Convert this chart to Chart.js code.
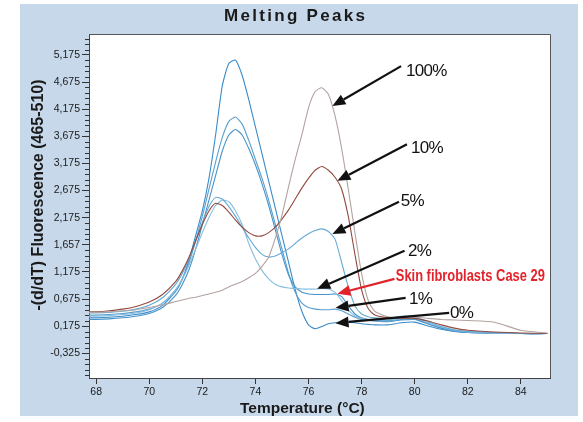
<!DOCTYPE html>
<html>
<head>
<meta charset="utf-8">
<script src="https://cdn.jsdelivr.net/npm/chart.js@4.4.1/dist/chart.umd.min.js"></script>
<style>
  body { margin: 0; background: #fff; }
</style>
</head>
<body>
<canvas id="grafico" width="583" height="422"></canvas>
<script>
// temperaturas (°C) comunes a todas las curvas
const temperaturas = [67.7, 68, 68.5, 69, 69.5, 70, 70.5,
  71, 71.25, 71.5, 71.75, 72, 72.25, 72.5, 72.75, 73, 73.25, 73.5, 73.75,
  74, 74.25, 74.5, 74.75, 75, 75.25, 75.5, 75.75, 76, 76.25, 76.5, 76.75,
  77, 77.25, 77.5, 77.75, 78, 78.25, 78.5,
  79, 79.5, 80, 80.5, 81, 81.5, 82, 83, 84, 85];

// -(d/dT) fluorescencia de cada muestra
const serie100 = [0.43, 0.43, 0.44, 0.46, 0.48, 0.52, 0.57,
  0.63, 0.66, 0.69, 0.71, 0.74, 0.77, 0.80, 0.84, 0.90, 0.95, 1.00, 1.07,
  1.15, 1.28, 1.45, 1.80, 2.22, 2.75, 3.25, 3.70, 4.20, 4.50, 4.57, 4.45,
  4.05, 3.45, 2.70, 1.90, 1.15, 0.65, 0.45,
  0.35, 0.33, 0.34, 0.32, 0.30, 0.29, 0.28, 0.25, 0.10, 0.05];
const serie10 = [0.44, 0.44, 0.46, 0.49, 0.54, 0.62, 0.76,
  1.00, 1.20, 1.45, 1.75, 2.05, 2.30, 2.44, 2.40, 2.28, 2.13, 2.00, 1.90,
  1.84, 1.84, 1.90, 2.00, 2.15, 2.32, 2.52, 2.72, 2.90, 3.05, 3.12, 3.05,
  2.92, 2.70, 2.20, 1.50, 0.85, 0.50, 0.38,
  0.33, 0.32, 0.32, 0.27, 0.20, 0.14, 0.10, 0.07, 0.05, 0.04];
const serie5 = [0.42, 0.42, 0.43, 0.45, 0.49, 0.56, 0.70,
  0.95, 1.15, 1.42, 1.75, 2.08, 2.38, 2.55, 2.52, 2.38, 2.20, 2.00, 1.80,
  1.63, 1.50, 1.45, 1.47, 1.53, 1.60, 1.70, 1.80, 1.88, 1.94, 1.97, 1.92,
  1.78, 1.35, 0.90, 0.55, 0.40, 0.35, 0.33,
  0.32, 0.36, 0.35, 0.26, 0.17, 0.11, 0.08, 0.06, 0.04, 0.04];
const serie2 = [0.36, 0.36, 0.37, 0.39, 0.42, 0.48, 0.60,
  0.85, 1.05, 1.30, 1.60, 1.90, 2.18, 2.40, 2.50, 2.47, 2.30, 2.05, 1.70,
  1.42, 1.20, 1.05, 0.95, 0.90, 0.88, 0.87, 0.86, 0.86, 0.86, 0.87, 0.86,
  0.80, 0.65, 0.47, 0.37, 0.32, 0.30, 0.30,
  0.29, 0.33, 0.33, 0.24, 0.16, 0.10, 0.07, 0.05, 0.04, 0.04];
const serieCaso29 = [0.30, 0.30, 0.31, 0.33, 0.36, 0.41, 0.52,
  0.75, 0.95, 1.22, 1.60, 2.05, 2.50, 2.95, 3.40, 3.70, 3.80, 3.70, 3.45,
  3.15, 2.80, 2.40, 1.95, 1.50, 1.12, 0.90, 0.80, 0.77, 0.76, 0.76, 0.76,
  0.77, 0.72, 0.55, 0.40, 0.33, 0.30, 0.29,
  0.28, 0.30, 0.31, 0.22, 0.14, 0.09, 0.06, 0.05, 0.04, 0.04];
const serie1 = [0.38, 0.38, 0.39, 0.41, 0.44, 0.49, 0.60,
  0.85, 1.05, 1.35, 1.75, 2.20, 2.70, 3.20, 3.65, 3.95, 4.03, 3.90, 3.60,
  3.25, 2.90, 2.50, 2.05, 1.60, 1.15, 0.80, 0.60, 0.52, 0.49, 0.48, 0.48,
  0.49, 0.46, 0.40, 0.34, 0.30, 0.28, 0.27,
  0.26, 0.29, 0.30, 0.22, 0.14, 0.09, 0.06, 0.05, 0.04, 0.04];
const serie0 = [0.33, 0.33, 0.34, 0.36, 0.39, 0.44, 0.56,
  0.82, 1.05, 1.40, 1.85, 2.30, 2.90, 3.70, 4.60, 5.02, 5.08, 4.80, 4.35,
  3.85, 3.35, 2.85, 2.35, 1.85, 1.35, 0.85, 0.45, 0.20, 0.13, 0.17, 0.22,
  0.24, 0.25, 0.25, 0.24, 0.22, 0.21, 0.20,
  0.20, 0.24, 0.25, 0.18, 0.12, 0.08, 0.06, 0.05, 0.04, 0.04];

// ejes
const xTicks = [68, 70, 72, 74, 76, 78, 80, 82, 84];
const yTicks = [-0.325, 0.175, 0.675, 1.175, 1.675, 2.175, 2.675, 3.175, 3.675, 4.175, 4.675, 5.175];
const yEtiquetas = ['-0,325', '0,175', '0,675', '1,175', '1,657', '2,175', '2,675', '3,175', '3,675', '4,175', '4,675', '5,175'];

// flechas con su texto, en coordenadas de datos
const flechas = [
  { texto: '100%', color: '#111', tx: 79.67, ty: 4.785, x0: 79.49, y0: 4.969, x1: 76.90, y1: 4.234 },
  { texto: '10%', color: '#111', tx: 79.86, ty: 3.37, x0: 79.71, y0: 3.53, x1: 77.09, y1: 2.855 },
  { texto: '5%', color: '#111', tx: 79.48, ty: 2.396, x0: 79.41, y0: 2.47, x1: 76.90, y1: 1.875 },
  { texto: '2%', color: '#111', tx: 79.75, ty: 1.476, x0: 79.62, y0: 1.568, x1: 76.33, y1: 0.864 },
  { texto: 'Skin fibroblasts Case 29', color: '#e3232b', tx: 79.29, ty: 1.0, x0: 79.24, y0: 1.048, x1: 77.09, y1: 0.772, ancho: 149 },
  { texto: '1%', color: '#111', tx: 79.79, ty: 0.594, x0: 79.66, y0: 0.699, x1: 77.02, y1: 0.515 },
  { texto: '0%', color: '#111', tx: 81.33, ty: 0.318, x0: 81.30, y0: 0.423, x1: 77.02, y1: 0.232 }
];

const fuente = '"Liberation Sans", Arial, sans-serif';

function puntos(serie) {
  return temperaturas.map((t, i) => ({ x: t, y: serie[i] }));
}

function dibujarFlecha(ctx, ax, ay, bx, by, color) {
  const ang = Math.atan2(by - ay, bx - ax);
  const largo = 13, medio = 5.5;
  const baseX = bx - Math.cos(ang) * largo;
  const baseY = by - Math.sin(ang) * largo;
  ctx.strokeStyle = color;
  ctx.fillStyle = color;
  ctx.lineWidth = 2.2;
  ctx.beginPath();
  ctx.moveTo(ax, ay);
  ctx.lineTo(baseX, baseY);
  ctx.stroke();
  ctx.beginPath();
  ctx.moveTo(bx, by);
  ctx.lineTo(baseX + Math.sin(ang) * medio, baseY - Math.cos(ang) * medio);
  ctx.lineTo(baseX - Math.sin(ang) * medio, baseY + Math.cos(ang) * medio);
  ctx.closePath();
  ctx.fill();
}

const decorado = {
  id: 'decorado',
  beforeDraw(chart) {
    const { ctx, chartArea: a } = chart;
    ctx.save();
    ctx.fillStyle = '#ffffff';
    ctx.fillRect(0, 0, chart.width, chart.height);
    ctx.fillStyle = '#c6d8ea';
    ctx.fillRect(20, 4, 558, 412);
    ctx.fillStyle = '#ffffff';
    ctx.fillRect(a.left, a.top, a.right - a.left, a.bottom - a.top);
    ctx.restore();
  },
  afterDraw(chart) {
    const { ctx, chartArea: a, scales } = chart;
    const sx = scales.x, sy = scales.y;
    ctx.save();

    // borde superior y derecho del area
    ctx.strokeStyle = '#555';
    ctx.lineWidth = 1;
    ctx.beginPath();
    ctx.moveTo(a.left, a.top + 0.5);
    ctx.lineTo(a.right + 0.5, a.top + 0.5);
    ctx.lineTo(a.right + 0.5, a.bottom);
    ctx.stroke();

    // marcas menores del eje y cada 0,1
    ctx.strokeStyle = '#333';
    const kMin = Math.ceil((sy.min + 0.325) / 0.1);
    const kMax = Math.floor((sy.max + 0.325) / 0.1);
    ctx.beginPath();
    for (let k = kMin; k <= kMax; k++) {
      if (k % 5 === 0) continue;
      const py = Math.round(sy.getPixelForValue(-0.325 + k * 0.1)) + 0.5;
      ctx.moveTo(a.left - 4, py);
      ctx.lineTo(a.left, py);
    }
    ctx.stroke();

    // titulo
    ctx.fillStyle = '#1a1a1a';
    ctx.font = 'bold 17px ' + fuente;
    ctx.letterSpacing = '2.3px';
    ctx.textAlign = 'left';
    ctx.textBaseline = 'alphabetic';
    ctx.fillText('Melting Peaks', 224, 20.5);
    ctx.letterSpacing = '0px';

    // titulos de ejes
    ctx.font = 'bold 15.5px ' + fuente;
    ctx.fillText('Temperature (°C)', 240, 413);
    ctx.save();
    ctx.translate(43, 195);
    ctx.rotate(-Math.PI / 2);
    ctx.textAlign = 'center';
    ctx.font = 'bold 16px ' + fuente;
    ctx.fillText('-(d/dT) Fluorescence (465-510)', 0, 0);
    ctx.restore();

    // flechas y etiquetas
    flechas.forEach(f => {
      dibujarFlecha(ctx,
        sx.getPixelForValue(f.x0), sy.getPixelForValue(f.y0),
        sx.getPixelForValue(f.x1), sy.getPixelForValue(f.y1), f.color);
      ctx.fillStyle = f.color;
      ctx.textAlign = 'left';
      if (f.ancho) {
        ctx.font = 'bold 16px ' + fuente;
        ctx.fillText(f.texto, sx.getPixelForValue(f.tx), sy.getPixelForValue(f.ty), f.ancho);
      } else {
        ctx.font = '17px ' + fuente;
        ctx.letterSpacing = '-0.7px';
        ctx.fillText(f.texto, sx.getPixelForValue(f.tx), sy.getPixelForValue(f.ty));
        ctx.letterSpacing = '0px';
      }
    });
    ctx.restore();
  }
};

const linea = (label, serie, color) => ({
  label: label,
  data: puntos(serie),
  borderColor: color,
  borderWidth: 1.1,
  pointRadius: 0,
  fill: false,
  tension: 0.2
});

const ctx = document.getElementById('grafico').getContext('2d');
const chart = new Chart(ctx, {
  type: 'line',
  data: {
    datasets: [
      linea('100%', serie100, '#b3a3a1'),
      linea('10%', serie10, '#94493d'),
      linea('5%', serie5, '#63a9d6'),
      linea('2%', serie2, '#86bddd'),
      linea('Skin fibroblasts Case 29', serieCaso29, '#4793c9'),
      linea('1%', serie1, '#5a9ecd'),
      linea('0%', serie0, '#3a8bc9')
    ]
  },
  options: {
    responsive: false,
    animation: false,
    devicePixelRatio: 1,
    layout: { padding: { left: 20, top: 34, right: 33, bottom: 6 } },
    plugins: {
      legend: { display: false },
      title: { display: false },
      tooltip: { enabled: false }
    },
    scales: {
      x: {
        type: 'linear',
        min: 67.73,
        max: 85.1,
        afterBuildTicks: s => { s.ticks = xTicks.map(v => ({ value: v })); },
        afterFit: s => { s.height = 38; },
        ticks: {
          autoSkip: false,
          maxRotation: 0,
          padding: 2,
          color: '#1a1a1a',
          font: { family: fuente, size: 10.5 },
          callback: v => String(v)
        },
        grid: { drawOnChartArea: false, tickLength: 6, tickColor: '#333' },
        border: { color: '#444', width: 1 }
      },
      y: {
        type: 'linear',
        min: -0.779,
        max: 5.561,
        afterBuildTicks: s => { s.ticks = yTicks.map(v => ({ value: v })); },
        afterFit: s => { s.width = 69; },
        ticks: {
          autoSkip: false,
          padding: 2,
          color: '#1a1a1a',
          font: { family: fuente, size: 10.5 },
          callback: (v, i) => yEtiquetas[i]
        },
        grid: { drawOnChartArea: false, tickLength: 7, tickColor: '#333' },
        border: { color: '#444', width: 1 }
      }
    }
  },
  plugins: [decorado]
});
</script>
</body>
</html>
